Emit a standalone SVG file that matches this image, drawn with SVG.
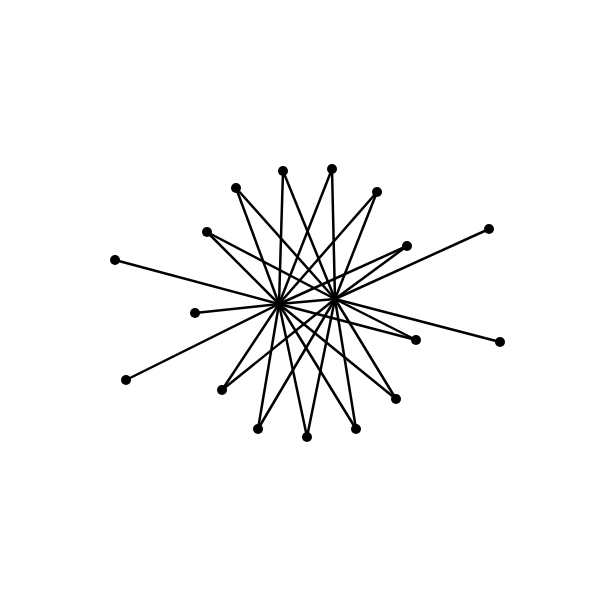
<svg xmlns="http://www.w3.org/2000/svg" width="600" height="600" viewBox="0 0 600 600">
<style>
.e{stroke:#000;stroke-width:2.5;fill:none}
.n{fill:#000}
</style>
<rect width="600" height="600" fill="#fff"/>
<g id="edges" class="e">
<line x1="279" y1="304" x2="335" y2="299"/>
<line x1="279" y1="304" x2="115" y2="260"/>
<line x1="279" y1="304" x2="195" y2="313"/>
<line x1="279" y1="304" x2="126" y2="380"/>
<line x1="335" y1="299" x2="489" y2="229"/>
<line x1="335" y1="299" x2="500" y2="342"/>
<line x1="279" y1="304" x2="207" y2="232"/><line x1="335" y1="299" x2="207" y2="232"/>
<line x1="279" y1="304" x2="236" y2="188"/><line x1="335" y1="299" x2="236" y2="188"/>
<line x1="279" y1="304" x2="283" y2="171"/><line x1="335" y1="299" x2="283" y2="171"/>
<line x1="279" y1="304" x2="332" y2="169"/><line x1="335" y1="299" x2="332" y2="169"/>
<line x1="279" y1="304" x2="377" y2="192"/><line x1="335" y1="299" x2="377" y2="192"/>
<line x1="279" y1="304" x2="407" y2="246"/><line x1="335" y1="299" x2="407" y2="246"/>
<line x1="279" y1="304" x2="416" y2="340"/><line x1="335" y1="299" x2="416" y2="340"/>
<line x1="279" y1="304" x2="396" y2="399"/><line x1="335" y1="299" x2="396" y2="399"/>
<line x1="279" y1="304" x2="356" y2="429"/><line x1="335" y1="299" x2="356" y2="429"/>
<line x1="279" y1="304" x2="307" y2="437"/><line x1="335" y1="299" x2="307" y2="437"/>
<line x1="279" y1="304" x2="258" y2="429"/><line x1="335" y1="299" x2="258" y2="429"/>
<line x1="279" y1="304" x2="222" y2="390"/><line x1="335" y1="299" x2="222" y2="390"/>
</g>
<g id="hubL"><circle class="n" cx="279" cy="304" r="3"/></g>
<g id="hubR"><circle class="n" cx="335" cy="299" r="3"/></g>
<g id="n1"><circle class="n" cx="115" cy="260" r="5"/></g>
<g id="n2"><circle class="n" cx="195" cy="313" r="5"/></g>
<g id="n3"><circle class="n" cx="126" cy="380" r="5"/></g>
<g id="n4"><circle class="n" cx="489" cy="229" r="5"/></g>
<g id="n5"><circle class="n" cx="500" cy="342" r="5"/></g>
<g id="n6"><circle class="n" cx="207" cy="232" r="5"/></g>
<g id="n7"><circle class="n" cx="236" cy="188" r="5"/></g>
<g id="n8"><circle class="n" cx="283" cy="171" r="5"/></g>
<g id="n9"><circle class="n" cx="332" cy="169" r="5"/></g>
<g id="n10"><circle class="n" cx="377" cy="192" r="5"/></g>
<g id="n11"><circle class="n" cx="407" cy="246" r="5"/></g>
<g id="n12"><circle class="n" cx="416" cy="340" r="5"/></g>
<g id="n13"><circle class="n" cx="396" cy="399" r="5"/></g>
<g id="n14"><circle class="n" cx="356" cy="429" r="5"/></g>
<g id="n15"><circle class="n" cx="307" cy="437" r="5"/></g>
<g id="n16"><circle class="n" cx="258" cy="429" r="5"/></g>
<g id="n17"><circle class="n" cx="222" cy="390" r="5"/></g>
</svg>
